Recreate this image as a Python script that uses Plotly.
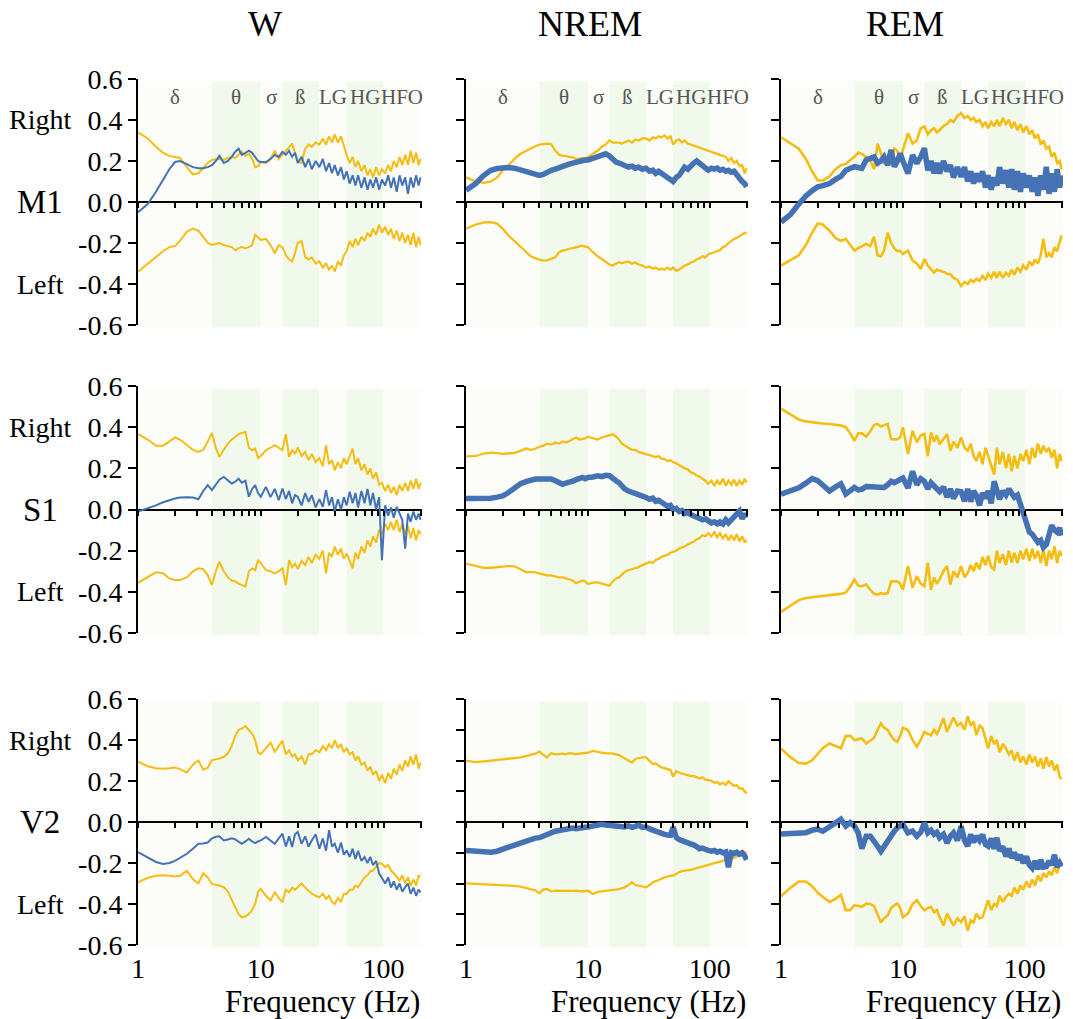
import math
import plotly.graph_objects as go

# ---------------- data ----------------
freq = [1, 1.2, 1.4, 1.6, 1.8, 2,
        2.2, 2.5, 2.8, 3.1, 3.4, 3.7,
        4, 4.3, 4.6, 5, 5.4, 5.8,
        6.2, 6.6, 7, 7.5, 8, 8.5,
        9, 9.5, 10, 11, 12, 13,
        14, 15, 16, 17, 18, 19,
        20, 21.5, 23, 24.5, 26, 28,
        30, 32, 34, 36, 38, 40,
        42.5, 45, 47.5, 50, 53, 56,
        59, 62, 66, 70, 74, 78,
        82, 87, 92, 97, 103, 109,
        115, 121, 128, 135, 142, 150,
        158, 166, 175, 184, 193, 200]

# ---- M1 ----
m1_w_right = [0.34, 0.31, 0.27, 0.24, 0.225, 0.22,
              0.215, 0.17, 0.135, 0.14, 0.165, 0.19,
              0.205, 0.21, 0.21, 0.205, 0.215, 0.22,
              0.215, 0.23, 0.245, 0.225, 0.235, 0.21,
              0.17, 0.175, 0.195, 0.19, 0.21, 0.25,
              0.21, 0.23, 0.25, 0.27, 0.285, 0.24,
              0.2, 0.19, 0.26, 0.28, 0.27, 0.29,
              0.28, 0.31, 0.28, 0.32, 0.29, 0.33,
              0.29, 0.32, 0.27, 0.23, 0.19, 0.22,
              0.17, 0.2, 0.15, 0.18, 0.13, 0.16,
              0.12, 0.17, 0.13, 0.16, 0.14, 0.18,
              0.15, 0.2, 0.17, 0.22, 0.18, 0.23,
              0.18, 0.25, 0.19, 0.24, 0.18, 0.21]
m1_w_left = [-0.34, -0.3, -0.265, -0.24, -0.22, -0.215,
             -0.19, -0.145, -0.13, -0.14, -0.17, -0.2,
             -0.21, -0.205, -0.2, -0.21, -0.215, -0.22,
             -0.235, -0.225, -0.22, -0.225, -0.22, -0.21,
             -0.16, -0.175, -0.185, -0.18, -0.21, -0.25,
             -0.21, -0.22, -0.26, -0.28, -0.29, -0.25,
             -0.2, -0.19, -0.27, -0.28, -0.27, -0.3,
             -0.29, -0.32, -0.3, -0.33, -0.31, -0.34,
             -0.29, -0.31, -0.26, -0.24, -0.19, -0.22,
             -0.18, -0.21, -0.17, -0.19, -0.15, -0.17,
             -0.13, -0.16, -0.11, -0.15, -0.12, -0.16,
             -0.13, -0.18, -0.14, -0.19, -0.15, -0.2,
             -0.16, -0.21, -0.15, -0.22, -0.17, -0.21]
m1_w_diff = [-0.05, -0.01, 0.05, 0.11, 0.16, 0.195,
             0.2, 0.185, 0.17, 0.165, 0.165, 0.17,
             0.18, 0.2, 0.225, 0.19, 0.2, 0.22,
             0.245, 0.26, 0.23, 0.24, 0.25, 0.24,
             0.22, 0.2, 0.195, 0.195, 0.21, 0.23,
             0.22, 0.245, 0.23, 0.25, 0.22, 0.24,
             0.19, 0.22, 0.17, 0.21, 0.16, 0.2,
             0.17, 0.21, 0.15, 0.19, 0.14, 0.18,
             0.13, 0.17, 0.11, 0.15, 0.09, 0.13,
             0.08, 0.13, 0.07, 0.12, 0.06, 0.11,
             0.07, 0.12, 0.06, 0.11, 0.08, 0.13,
             0.07, 0.12, 0.05, 0.13, 0.08, 0.12,
             0.04, 0.12, 0.07, 0.13, 0.08, 0.12]

m1_nrem_right = [0.12, 0.1, 0.093, 0.1, 0.12, 0.155,
                 0.175, 0.21, 0.235, 0.25, 0.26, 0.272,
                 0.28, 0.283, 0.285, 0.283, 0.25, 0.23,
                 0.225, 0.225, 0.22, 0.218, 0.21, 0.212,
                 0.215, 0.21, 0.22, 0.235, 0.25, 0.27,
                 0.28, 0.3, 0.29, 0.29, 0.29, 0.285,
                 0.29, 0.3, 0.29, 0.305, 0.3, 0.31,
                 0.31, 0.3, 0.315, 0.31, 0.32, 0.315,
                 0.325, 0.31, 0.32, 0.28, 0.3, 0.305,
                 0.29, 0.3, 0.285, 0.28, 0.275, 0.27,
                 0.265, 0.26, 0.255, 0.25, 0.245, 0.24,
                 0.235, 0.23, 0.225, 0.22, 0.2, 0.215,
                 0.19, 0.2, 0.175, 0.18, 0.14, 0.165]
m1_nrem_left = [-0.13, -0.11, -0.1, -0.098, -0.105, -0.13,
                -0.16, -0.19, -0.215, -0.24, -0.265, -0.275,
                -0.28, -0.286, -0.285, -0.278, -0.27, -0.245,
                -0.237, -0.234, -0.228, -0.225, -0.22, -0.215,
                -0.213, -0.218, -0.22, -0.245, -0.265, -0.278,
                -0.29, -0.305, -0.31, -0.3, -0.295, -0.298,
                -0.295, -0.29, -0.3, -0.295, -0.305, -0.31,
                -0.32, -0.315, -0.325, -0.32, -0.33, -0.325,
                -0.33, -0.32, -0.33, -0.32, -0.335, -0.33,
                -0.32, -0.31, -0.305, -0.295, -0.29, -0.28,
                -0.275, -0.265, -0.27, -0.255, -0.25, -0.245,
                -0.24, -0.235, -0.22, -0.215, -0.2, -0.188,
                -0.18, -0.175, -0.165, -0.16, -0.15, -0.155]
m1_nrem_diff = [0.057, 0.09, 0.13, 0.155, 0.163, 0.168,
                0.168, 0.165, 0.158, 0.15, 0.142, 0.135,
                0.13, 0.135, 0.145, 0.155, 0.16, 0.165,
                0.17, 0.178, 0.185, 0.19, 0.195, 0.195,
                0.2, 0.205, 0.205, 0.215, 0.225, 0.23,
                0.235, 0.225, 0.205, 0.195, 0.19, 0.185,
                0.18, 0.17, 0.175, 0.165, 0.17, 0.16,
                0.165, 0.15, 0.155, 0.14, 0.15, 0.14,
                0.13, 0.12, 0.11, 0.1, 0.12, 0.13,
                0.15, 0.17, 0.16, 0.18, 0.19, 0.2,
                0.19, 0.175, 0.17, 0.155, 0.165, 0.16,
                0.165, 0.155, 0.16, 0.15, 0.155, 0.145,
                0.15, 0.13, 0.12, 0.1, 0.09, 0.074]

m1_rem_right = [0.316, 0.285, 0.26, 0.21, 0.15, 0.105,
                0.105, 0.125, 0.16, 0.18, 0.185, 0.205,
                0.22, 0.24, 0.235, 0.22, 0.205, 0.16,
                0.285, 0.24, 0.19, 0.205, 0.18, 0.26,
                0.25, 0.2, 0.254, 0.335, 0.285, 0.3,
                0.36, 0.368, 0.33, 0.35, 0.36, 0.34,
                0.35, 0.37, 0.38, 0.4, 0.39, 0.42,
                0.434, 0.41, 0.42, 0.4, 0.41, 0.39,
                0.4, 0.37, 0.39, 0.36, 0.39, 0.37,
                0.4, 0.37, 0.41, 0.38, 0.4, 0.36,
                0.39, 0.35, 0.38, 0.34, 0.37, 0.33,
                0.35, 0.31, 0.33, 0.28, 0.3, 0.26,
                0.27, 0.22, 0.24, 0.19, 0.2, 0.16]
m1_rem_left = [-0.31, -0.285, -0.26, -0.21, -0.15, -0.105,
               -0.11, -0.14, -0.175, -0.19, -0.18, -0.21,
               -0.237, -0.225, -0.215, -0.205, -0.215, -0.17,
               -0.26, -0.265, -0.237, -0.15, -0.2, -0.225,
               -0.24, -0.237, -0.254, -0.237, -0.286, -0.3,
               -0.327, -0.278, -0.31, -0.33, -0.344, -0.33,
               -0.336, -0.34, -0.35, -0.352, -0.37, -0.38,
               -0.41, -0.39, -0.4, -0.38, -0.39, -0.375,
               -0.385, -0.36, -0.38, -0.35, -0.37, -0.34,
               -0.37, -0.34, -0.37, -0.345, -0.36, -0.33,
               -0.355, -0.32, -0.34, -0.31, -0.33, -0.29,
               -0.31, -0.28, -0.3, -0.26, -0.18, -0.27,
               -0.25, -0.27, -0.22, -0.24, -0.19, -0.163]
m1_rem_diff = [-0.098, -0.06, -0.01, 0.03, 0.055, 0.074,
               0.08, 0.09, 0.11, 0.125, 0.155, 0.165,
               0.172, 0.168, 0.164, 0.205, 0.215, 0.22,
               0.19, 0.2, 0.22, 0.18, 0.254, 0.172,
               0.2, 0.237, 0.2, 0.139, 0.229, 0.188,
               0.22, 0.262, 0.155, 0.2, 0.14, 0.19,
               0.139, 0.2, 0.15, 0.18, 0.12, 0.17,
               0.123, 0.17, 0.1, 0.15, 0.09, 0.139,
               0.1, 0.15, 0.07, 0.13, 0.06, 0.12,
               0.08, 0.17, 0.09, 0.155, 0.07, 0.16,
               0.06, 0.15, 0.05, 0.14, 0.07, 0.13,
               0.05, 0.12, 0.03, 0.13, 0.06, 0.172,
               0.04, 0.14, 0.05, 0.16, 0.07, 0.13]

# ---- S1 ----
s1_w_right = [0.366, 0.34, 0.31, 0.31, 0.33, 0.35,
              0.34, 0.315, 0.29, 0.28, 0.29, 0.33,
              0.372, 0.3, 0.256, 0.29, 0.32, 0.34,
              0.355, 0.365, 0.372, 0.377, 0.3, 0.288,
              0.296, 0.25, 0.26, 0.288, 0.3, 0.312,
              0.3, 0.288, 0.366, 0.256, 0.29, 0.27,
              0.3, 0.26, 0.28, 0.24, 0.27, 0.23,
              0.25, 0.21, 0.312, 0.22, 0.24, 0.19,
              0.23, 0.2, 0.25, 0.22, 0.26, 0.296,
              0.22, 0.25, 0.19, 0.22, 0.17, 0.2,
              0.15, 0.18, 0.12, 0.13, 0.09, 0.12,
              0.08, 0.11, 0.07, 0.12, 0.09, 0.13,
              0.09, 0.14, 0.1, 0.15, 0.1, 0.13]
s1_w_left = [-0.356, -0.33, -0.305, -0.31, -0.335, -0.343,
             -0.343, -0.33, -0.3, -0.286, -0.29, -0.32,
             -0.367, -0.3, -0.254, -0.3, -0.33, -0.345,
             -0.35, -0.36, -0.367, -0.375, -0.3, -0.286,
             -0.295, -0.246, -0.26, -0.295, -0.3, -0.31,
             -0.3, -0.286, -0.367, -0.246, -0.28, -0.262,
             -0.29, -0.25, -0.27, -0.23, -0.26, -0.22,
             -0.24, -0.2, -0.31, -0.21, -0.23, -0.18,
             -0.22, -0.19, -0.24, -0.214, -0.25, -0.286,
             -0.21, -0.24, -0.18, -0.21, -0.15, -0.18,
             -0.13, -0.16, -0.1, -0.12, -0.07, -0.1,
             -0.06, -0.1, -0.05, -0.11, -0.07, -0.12,
             -0.08, -0.14, -0.09, -0.15, -0.1, -0.12]
s1_w_diff = [-0.01, 0.005, 0.02, 0.035, 0.045, 0.053,
             0.058, 0.06, 0.058, 0.05, 0.09, 0.118,
             0.094, 0.12, 0.145, 0.158, 0.14, 0.126,
             0.135, 0.15, 0.13, 0.14, 0.062, 0.1,
             0.118, 0.08, 0.062, 0.11, 0.06, 0.1,
             0.045, 0.102, 0.05, 0.09, 0.03, 0.07,
             0.062, 0.02, 0.08, 0.037, 0.07, 0.01,
             0.05, 0.013, 0.094, 0.02, 0.06, -0.01,
             0.05, 0.0, 0.06, 0.02, 0.086, 0.03,
             0.08, 0.01, 0.09, 0.03, 0.1, 0.02,
             0.08, 0.0, 0.06, -0.246, 0.02, -0.03,
             0.01, -0.04, 0.013, -0.02, -0.05, -0.19,
             -0.02, -0.06, -0.01, -0.05, -0.02, -0.05]

s1_nrem_right = [0.258, 0.26, 0.272, 0.276, 0.274, 0.27,
                 0.272, 0.275, 0.285, 0.296, 0.29, 0.295,
                 0.305, 0.31, 0.32, 0.315, 0.325, 0.32,
                 0.33, 0.325, 0.332, 0.34, 0.35, 0.34,
                 0.342, 0.345, 0.354, 0.345, 0.34, 0.35,
                 0.355, 0.362, 0.365, 0.355, 0.34, 0.32,
                 0.31, 0.3, 0.29, 0.29, 0.28, 0.275,
                 0.27, 0.265, 0.26, 0.255, 0.26, 0.247,
                 0.245, 0.235, 0.24, 0.23, 0.225, 0.215,
                 0.21, 0.2, 0.195, 0.18, 0.175, 0.165,
                 0.16, 0.15, 0.14, 0.125, 0.14, 0.115,
                 0.14, 0.12, 0.15, 0.115, 0.14, 0.12,
                 0.145, 0.115, 0.14, 0.12, 0.15, 0.13]
s1_nrem_left = [-0.263, -0.275, -0.283, -0.283, -0.28, -0.275,
                -0.275, -0.276, -0.29, -0.304, -0.304, -0.305,
                -0.31, -0.315, -0.32, -0.32, -0.325, -0.33,
                -0.33, -0.335, -0.337, -0.345, -0.358, -0.35,
                -0.345, -0.35, -0.362, -0.355, -0.354, -0.36,
                -0.365, -0.37, -0.35, -0.335, -0.33, -0.315,
                -0.304, -0.295, -0.29, -0.285, -0.28, -0.27,
                -0.263, -0.255, -0.26, -0.245, -0.24, -0.23,
                -0.225, -0.22, -0.21, -0.205, -0.2, -0.19,
                -0.185, -0.18, -0.17, -0.164, -0.155, -0.145,
                -0.14, -0.125, -0.13, -0.115, -0.13, -0.11,
                -0.135, -0.115, -0.14, -0.12, -0.15, -0.125,
                -0.15, -0.12, -0.155, -0.13, -0.16, -0.148]
s1_nrem_diff = [0.053, 0.053, 0.054, 0.055, 0.06, 0.066,
                0.08, 0.107, 0.125, 0.135, 0.145, 0.148,
                0.148, 0.148, 0.15, 0.148, 0.14, 0.128,
                0.123, 0.128, 0.13, 0.138, 0.145, 0.15,
                0.156, 0.15, 0.156, 0.158, 0.164, 0.16,
                0.166, 0.164, 0.155, 0.14, 0.13, 0.115,
                0.1, 0.09, 0.085, 0.077, 0.07, 0.065,
                0.058, 0.05, 0.055, 0.04, 0.045, 0.033,
                0.025, 0.015, 0.02, 0.0, 0.005, -0.01,
                -0.005, -0.02, -0.015, -0.025, -0.03, -0.035,
                -0.04, -0.05, -0.045, -0.058, -0.065, -0.06,
                -0.07, -0.06, -0.07, -0.05, -0.065, -0.05,
                -0.035, -0.02, -0.008, -0.045, -0.02, -0.04]

s1_rem_right = [0.49, 0.46, 0.437, 0.428, 0.423, 0.42,
                0.418, 0.415, 0.412, 0.408, 0.4, 0.37,
                0.334, 0.37, 0.37, 0.354, 0.38, 0.41,
                0.416, 0.403, 0.41, 0.416, 0.342, 0.34,
                0.342, 0.35, 0.4, 0.27, 0.383, 0.326,
                0.36, 0.367, 0.26, 0.375, 0.33, 0.36,
                0.317, 0.34, 0.367, 0.285, 0.33, 0.3,
                0.35, 0.3, 0.285, 0.32, 0.26, 0.235,
                0.28, 0.22, 0.3, 0.26, 0.21, 0.17,
                0.3, 0.22, 0.28, 0.2, 0.27, 0.186,
                0.26, 0.2, 0.27, 0.235, 0.29, 0.22,
                0.3, 0.25, 0.32, 0.27, 0.31, 0.28,
                0.3, 0.252, 0.29, 0.2, 0.27, 0.235]
s1_rem_left = [-0.497, -0.465, -0.44, -0.43, -0.425, -0.423,
               -0.42, -0.416, -0.413, -0.41, -0.403, -0.375,
               -0.34, -0.37, -0.373, -0.365, -0.39, -0.41,
               -0.414, -0.406, -0.41, -0.406, -0.349, -0.35,
               -0.349, -0.36, -0.39, -0.275, -0.38, -0.324,
               -0.36, -0.373, -0.258, -0.39, -0.33, -0.36,
               -0.34, -0.3, -0.275, -0.365, -0.3, -0.33,
               -0.275, -0.33, -0.308, -0.27, -0.3, -0.258,
               -0.29, -0.23, -0.27, -0.225, -0.28, -0.291,
               -0.2, -0.26, -0.217, -0.27, -0.2, -0.258,
               -0.21, -0.26, -0.2, -0.242, -0.19, -0.25,
               -0.19, -0.24, -0.2, -0.26, -0.192, -0.275,
               -0.2, -0.242, -0.18, -0.26, -0.2, -0.225]
s1_rem_diff = [0.074, 0.09, 0.105, 0.128, 0.15, 0.14,
               0.12, 0.09, 0.11, 0.125, 0.075, 0.09,
               0.107, 0.095, 0.098, 0.112, 0.11, 0.107,
               0.107, 0.11, 0.107, 0.12, 0.137, 0.13,
               0.14, 0.145, 0.153, 0.104, 0.186, 0.12,
               0.15, 0.137, 0.1, 0.13, 0.112, 0.1,
               0.087, 0.11, 0.06, 0.1, 0.054, 0.09,
               0.087, 0.04, 0.1, 0.038, 0.09, 0.07,
               0.02, 0.08, 0.054, 0.09, 0.03, 0.137,
               0.1, 0.05, 0.09, 0.07, 0.1, 0.079,
               0.06, 0.07, 0.03, -0.012, -0.05, -0.11,
               -0.12, -0.14, -0.16, -0.15, -0.184, -0.17,
               -0.12, -0.077, -0.1, -0.11, -0.09, -0.127]

# ---- V2 ----
v2_w_right = [0.294, 0.272, 0.262, 0.26, 0.262, 0.266,
              0.258, 0.241, 0.28, 0.3, 0.255, 0.265,
              0.302, 0.305, 0.31, 0.318, 0.335, 0.37,
              0.42, 0.45, 0.455, 0.468, 0.449, 0.43,
              0.4, 0.34, 0.331, 0.36, 0.387, 0.343,
              0.37, 0.396, 0.33, 0.35, 0.32, 0.33,
              0.3, 0.32, 0.28, 0.33, 0.33, 0.35,
              0.34, 0.37, 0.35, 0.38, 0.36, 0.4,
              0.36, 0.38, 0.34, 0.36, 0.33, 0.34,
              0.3, 0.32, 0.28, 0.29, 0.25, 0.27,
              0.23, 0.25, 0.2, 0.23, 0.19, 0.24,
              0.21, 0.26, 0.23, 0.28, 0.25, 0.3,
              0.27, 0.32, 0.28, 0.33, 0.26, 0.29]
v2_w_left = [-0.294, -0.272, -0.262, -0.26, -0.262, -0.266,
             -0.262, -0.237, -0.28, -0.299, -0.25, -0.27,
             -0.302, -0.305, -0.31, -0.318, -0.34, -0.38,
             -0.42, -0.45, -0.465, -0.46, -0.449, -0.43,
             -0.4, -0.34, -0.326, -0.36, -0.383, -0.343,
             -0.37, -0.392, -0.33, -0.343, -0.32, -0.33,
             -0.318, -0.3, -0.32, -0.334, -0.35, -0.36,
             -0.367, -0.35, -0.375, -0.36, -0.39, -0.4,
             -0.37, -0.39, -0.35, -0.351, -0.33, -0.33,
             -0.31, -0.318, -0.29, -0.269, -0.26, -0.24,
             -0.237, -0.22, -0.2, -0.204, -0.22, -0.21,
             -0.237, -0.25, -0.27, -0.285, -0.26, -0.3,
             -0.27, -0.31, -0.28, -0.31, -0.26, -0.269]
v2_w_diff = [-0.147, -0.175, -0.195, -0.205, -0.2, -0.19,
             -0.175, -0.155, -0.13, -0.106, -0.105, -0.1,
             -0.08, -0.072, -0.07, -0.09, -0.085, -0.08,
             -0.085, -0.095, -0.106, -0.095, -0.082, -0.095,
             -0.103, -0.095, -0.09, -0.073, -0.09, -0.106,
             -0.08, -0.057, -0.12, -0.07, -0.122, -0.06,
             -0.049, -0.106, -0.07, -0.12, -0.09, -0.06,
             -0.13, -0.08, -0.14, -0.04, -0.12, -0.106,
             -0.15, -0.1, -0.16, -0.139, -0.17, -0.13,
             -0.18, -0.14, -0.19, -0.171, -0.2, -0.17,
             -0.21, -0.19, -0.25, -0.277, -0.3, -0.27,
             -0.32, -0.29, -0.33, -0.3, -0.34, -0.318,
             -0.3, -0.35, -0.32, -0.36, -0.33, -0.343]

v2_nrem_right = [0.399, 0.39, 0.395, 0.4, 0.405, 0.407,
                 0.41, 0.415, 0.42, 0.428, 0.436, 0.445,
                 0.458, 0.435, 0.42, 0.447, 0.44, 0.442,
                 0.445, 0.44, 0.447, 0.445, 0.442, 0.445,
                 0.448, 0.45, 0.451, 0.462, 0.455, 0.451,
                 0.448, 0.447, 0.445, 0.44, 0.435, 0.425,
                 0.414, 0.4, 0.386, 0.41, 0.415, 0.42,
                 0.42, 0.4, 0.377, 0.38, 0.365, 0.355,
                 0.35, 0.345, 0.338, 0.294, 0.33, 0.32,
                 0.315, 0.31, 0.305, 0.298, 0.3, 0.29,
                 0.283, 0.29, 0.275, 0.272, 0.268, 0.255,
                 0.26, 0.245, 0.255, 0.24, 0.265, 0.25,
                 0.235, 0.24, 0.218, 0.22, 0.2, 0.185]
v2_nrem_left = [-0.399, -0.402, -0.405, -0.409, -0.409, -0.409,
                -0.412, -0.415, -0.42, -0.428, -0.436, -0.445,
                -0.464, -0.44, -0.436, -0.451, -0.447, -0.448,
                -0.447, -0.45, -0.451, -0.448, -0.447, -0.45,
                -0.452, -0.448, -0.447, -0.468, -0.455, -0.451,
                -0.448, -0.447, -0.445, -0.44, -0.436, -0.43,
                -0.425, -0.41, -0.392, -0.41, -0.414, -0.42,
                -0.425, -0.41, -0.392, -0.385, -0.375, -0.37,
                -0.36, -0.355, -0.349, -0.349, -0.335, -0.327,
                -0.32, -0.318, -0.315, -0.312, -0.305, -0.3,
                -0.294, -0.29, -0.288, -0.283, -0.275, -0.27,
                -0.265, -0.261, -0.255, -0.25, -0.245, -0.24,
                -0.232, -0.225, -0.218, -0.21, -0.205, -0.196]
v2_nrem_diff = [-0.185, -0.192, -0.196, -0.196, -0.19, -0.174,
                -0.165, -0.15, -0.135, -0.12, -0.11, -0.105,
                -0.102, -0.09, -0.08, -0.065, -0.06, -0.055,
                -0.05, -0.045, -0.037, -0.04, -0.044, -0.038,
                -0.035, -0.034, -0.033, -0.025, -0.018, -0.015,
                -0.02, -0.022, -0.03, -0.025, -0.035, -0.03,
                -0.033, -0.025, -0.035, -0.028, -0.02, -0.035,
                -0.033, -0.045, -0.054, -0.06, -0.07, -0.076,
                -0.08, -0.085, -0.087, -0.033, -0.1, -0.115,
                -0.12, -0.125, -0.135, -0.142, -0.15, -0.16,
                -0.174, -0.17, -0.18, -0.185, -0.19, -0.185,
                -0.196, -0.19, -0.2, -0.195, -0.294, -0.2,
                -0.205, -0.196, -0.21, -0.2, -0.22, -0.246]

v2_rem_right = [0.359, 0.315, 0.288, 0.285, 0.301, 0.335,
                0.36, 0.383, 0.37, 0.36, 0.42, 0.42,
                0.4, 0.405, 0.408, 0.383, 0.395, 0.41,
                0.45, 0.482, 0.46, 0.449, 0.42, 0.4,
                0.391, 0.42, 0.46, 0.449, 0.4, 0.367,
                0.4, 0.44, 0.43, 0.424, 0.45, 0.43,
                0.457, 0.507, 0.44, 0.48, 0.51, 0.47,
                0.482, 0.45, 0.515, 0.47, 0.49, 0.424,
                0.47, 0.457, 0.4, 0.359, 0.42, 0.38,
                0.4, 0.34, 0.38, 0.359, 0.33, 0.35,
                0.3, 0.34, 0.29, 0.32, 0.28, 0.33,
                0.29, 0.32, 0.27, 0.31, 0.26, 0.317,
                0.27, 0.3, 0.252, 0.28, 0.22, 0.21]
v2_rem_left = [-0.362, -0.32, -0.29, -0.29, -0.313, -0.345,
               -0.365, -0.39, -0.375, -0.355, -0.43, -0.43,
               -0.406, -0.41, -0.414, -0.398, -0.4, -0.41,
               -0.45, -0.49, -0.47, -0.456, -0.42, -0.406,
               -0.398, -0.42, -0.464, -0.447, -0.4, -0.382,
               -0.41, -0.431, -0.42, -0.414, -0.44, -0.43,
               -0.464, -0.505, -0.447, -0.48, -0.505, -0.47,
               -0.488, -0.46, -0.53, -0.48, -0.49, -0.447,
               -0.47, -0.464, -0.42, -0.382, -0.43, -0.4,
               -0.41, -0.36, -0.39, -0.365, -0.35, -0.36,
               -0.32, -0.35, -0.31, -0.33, -0.29, -0.32,
               -0.28, -0.31, -0.26, -0.29, -0.25, -0.27,
               -0.24, -0.26, -0.22, -0.25, -0.2, -0.2]
v2_rem_diff = [-0.058, -0.058, -0.058, -0.052, -0.04, -0.035,
               -0.045, -0.025, -0.005, 0.013, -0.02, -0.003,
               -0.02, -0.053, -0.13, -0.069, -0.069, -0.09,
               -0.118, -0.143, -0.12, -0.086, -0.061, -0.045,
               -0.028, -0.02, -0.012, -0.053, -0.044, -0.069,
               -0.05, -0.003, -0.053, -0.04, -0.06, -0.05,
               -0.077, -0.06, -0.102, -0.07, -0.053, -0.09,
               -0.02, -0.09, -0.118, -0.06, -0.1, -0.069,
               -0.09, -0.061, -0.11, -0.118, -0.08, -0.13,
               -0.077, -0.14, -0.12, -0.168, -0.13, -0.175,
               -0.15, -0.184, -0.16, -0.2, -0.168, -0.21,
               -0.225, -0.19, -0.23, -0.184, -0.22, -0.217,
               -0.19, -0.21, -0.16, -0.22, -0.2, -0.217]

states = ["W", "NREM", "REM"]
regions = ["M1", "S1", "V2"]
band_names = ["δ", "θ", "σ", "ß", "LG", "HG", "HFO"]
band_edges = [1, 4, 10, 15, 30, 50, 100, 205]
y_ticks = [0.6, 0.4, 0.2, 0.0, -0.2, -0.4, -0.6]
y_tick_text = ["0.6", "0.4", "0.2", "0.0", "-0.2", "-0.4", "-0.6"]
x_ticks = [1, 2, 3, 4, 5, 6, 7, 8, 9, 10, 20, 30, 40, 50, 60, 70, 80, 90, 100, 200]
x_tick_text = ["1", "", "", "", "", "", "", "", "", "10",
               "", "", "", "", "", "", "", "", "100", ""]

panels = {
    ("M1", "W"): (m1_w_right, m1_w_left, m1_w_diff),
    ("M1", "NREM"): (m1_nrem_right, m1_nrem_left, m1_nrem_diff),
    ("M1", "REM"): (m1_rem_right, m1_rem_left, m1_rem_diff),
    ("S1", "W"): (s1_w_right, s1_w_left, s1_w_diff),
    ("S1", "NREM"): (s1_nrem_right, s1_nrem_left, s1_nrem_diff),
    ("S1", "REM"): (s1_rem_right, s1_rem_left, s1_rem_diff),
    ("V2", "W"): (v2_w_right, v2_w_left, v2_w_diff),
    ("V2", "NREM"): (v2_nrem_right, v2_nrem_left, v2_nrem_diff),
    ("V2", "REM"): (v2_rem_right, v2_rem_left, v2_rem_diff),
}
for key, arrs in panels.items():
    for a in arrs:
        assert len(a) == len(freq), (key, len(a))

# ---------------- styling ----------------
W, H = 1073, 1019
YELLOW = "#F5BD14"
BLUE = "#4472B4"
SERIF = "Liberation Serif"
xdom = [[138 / W, 422 / W], [466 / W, 748 / W], [781 / W, 1063 / W]]
ydom = [[1 - 325 / H, 1 - 79 / H], [1 - 633 / H, 1 - 386 / H], [1 - 945 / H, 1 - 699 / H]]
xmax_log = 2.313
band_fill = ["#FCFDF9", "#F1F8EC", "#FCFDF9", "#F1F8EC", "#FCFDF9", "#F1F8EC", "#FCFDF9"]

fig = go.Figure()
layout = dict(width=W, height=H, margin=dict(l=0, r=0, t=0, b=0, autoexpand=False),
              paper_bgcolor="white", plot_bgcolor="white", showlegend=False,
              font=dict(family=SERIF, color="black"))
shapes = []
annotations = []

for r, reg in enumerate(regions):
    for c, st in enumerate(states):
        k = r * 3 + c + 1
        sfx = "" if k == 1 else str(k)
        xa, ya = "x" + sfx, "y" + sfx
        lim = 0.8 if (reg == "V2" and st == "NREM") else 0.6
        zero_pos = (ydom[r][0] + ydom[r][1]) / 2
        if lim == 0.6:
            tv, tt = y_ticks, y_tick_text
        else:
            tv = [0.8, 0.6, 0.4, 0.2, 0.0, -0.2, -0.4, -0.6, -0.8]
            tt = [str(v) for v in tv]
        layout["xaxis" + sfx] = dict(
            domain=xdom[c], type="log", range=[0, xmax_log], anchor="free",
            position=zero_pos, showline=False, showgrid=False, zeroline=False,
            automargin=False,
            ticks="outside", ticklen=5, tickwidth=1.5, tickcolor="black",
            tickmode="array", tickvals=x_ticks, ticktext=x_tick_text,
            showticklabels=(r == 2), ticklabelstandoff=116,
            tickfont=dict(family=SERIF, size=28, color="black"))
        layout["yaxis" + sfx] = dict(
            domain=ydom[r], anchor=xa, range=[-lim, lim], showline=True,
            automargin=False,
            linecolor="black", linewidth=2, ticks="outside", ticklen=8,
            tickwidth=2, tickcolor="black", tickmode="array", tickvals=tv,
            ticktext=tt, showticklabels=(c == 0), showgrid=False,
            zeroline=True, zerolinecolor="black", zerolinewidth=2,
            tickfont=dict(family=SERIF, size=28, color="black"))

        # band shading (shapes take data values on log axes)
        for i in range(len(band_names)):
            x1 = min(band_edges[i + 1], 10 ** xmax_log)
            shapes.append(dict(type="rect", xref=xa, yref=ya + " domain",
                               x0=band_edges[i], x1=x1, y0=-0.01, y1=0.99,
                               fillcolor=band_fill[i], line=dict(width=0), layer="below"))
            if r == 0:
                mid = (math.log10(band_edges[i]) + math.log10(min(band_edges[i + 1], 200))) / 2
                annotations.append(dict(x=mid, y=0.51, xref=xa, yref=ya, text=band_names[i],
                                        showarrow=False, xanchor="center", yanchor="middle",
                                        font=dict(family=SERIF, size=21, color="#555555")))

        right, left, diff = panels[(reg, st)]
        thin = (st == "W")
        yw = 2 if thin else (2.3 if st == "NREM" else 2.6)
        fig.add_trace(go.Scatter(x=freq, y=right, xaxis=xa, yaxis=ya, mode="lines",
                                 line=dict(color=YELLOW, width=yw)))
        fig.add_trace(go.Scatter(x=freq, y=left, xaxis=xa, yaxis=ya, mode="lines",
                                 line=dict(color=YELLOW, width=yw)))
        fig.add_trace(go.Scatter(x=freq, y=diff, xaxis=xa, yaxis=ya, mode="lines",
                                 line=dict(color=BLUE, width=2 if thin else 5.5)))

        if c == 0:
            annotations.append(dict(x=40 / W, y=0.4, xref="paper", yref=ya, text="Right",
                                    showarrow=False, xanchor="center", yanchor="middle",
                                    font=dict(family=SERIF, size=28)))
            annotations.append(dict(x=40 / W, y=-0.4, xref="paper", yref=ya, text="Left",
                                    showarrow=False, xanchor="center", yanchor="middle",
                                    font=dict(family=SERIF, size=28)))
            annotations.append(dict(x=40 / W, y=0, xref="paper", yref=ya, text=reg,
                                    showarrow=False, xanchor="center", yanchor="middle",
                                    font=dict(family=SERIF, size=33)))
        if r == 2:
            annotations.append(dict(x=xdom[c][1], y=1 - 1001 / H, xref="paper", yref="paper",
                                    text="Frequency (Hz)", showarrow=False, xanchor="right",
                                    yanchor="middle", font=dict(family=SERIF, size=31)))

title_x = [265, 590, 905]
for c, st in enumerate(states):
    annotations.append(dict(x=title_x[c] / W, y=1 - 24 / H, xref="paper", yref="paper",
                            text=st, showarrow=False, xanchor="center", yanchor="middle",
                            font=dict(family=SERIF, size=36)))

layout["shapes"] = shapes
layout["annotations"] = annotations
fig.update_layout(**layout)
fig.write_html("out.html")
